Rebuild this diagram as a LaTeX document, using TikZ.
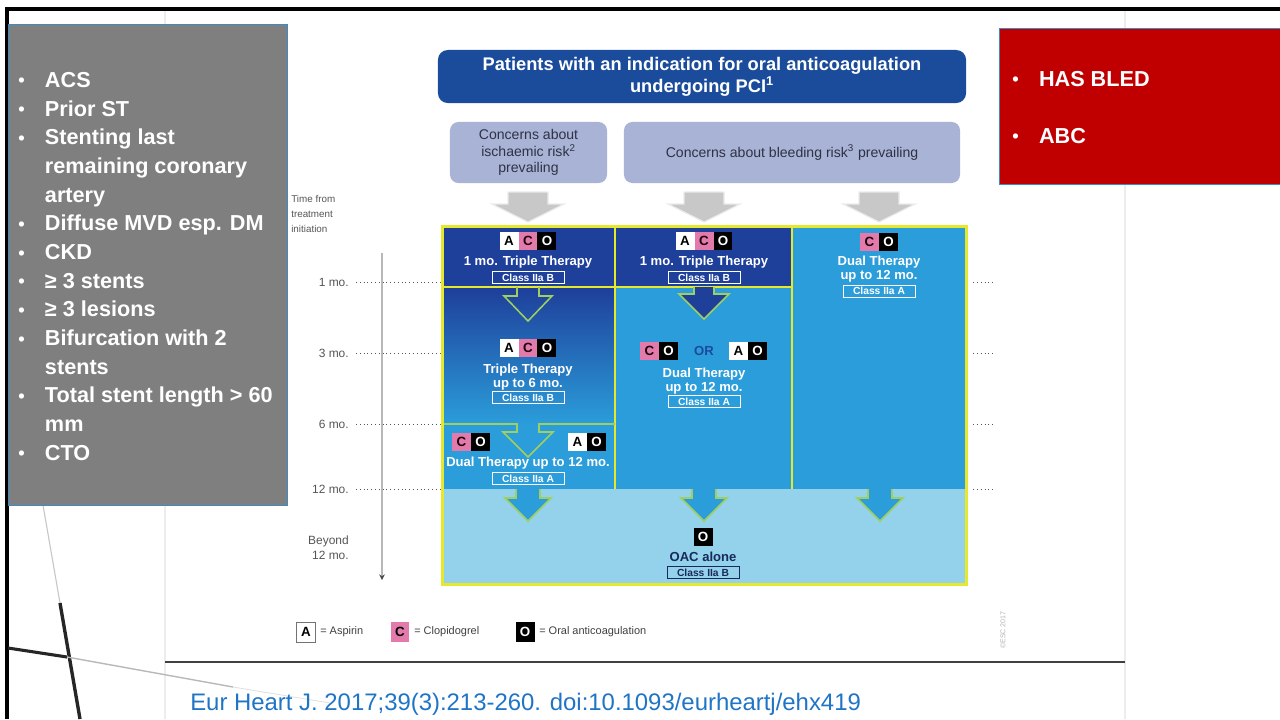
\documentclass[tikz,border=0pt]{standalone}
\usepackage{fontspec}
\setmainfont{Liberation Sans}
\usepackage{xcolor}
\usepackage{tikz}
\usetikzlibrary{arrows.meta, positioning}
\definecolor{panelgray}{HTML}{7F7F7F}
\definecolor{panelred}{HTML}{C00000}
\definecolor{paneledge}{HTML}{3A8CC4}
\definecolor{titleblue}{HTML}{1B4C9C}
\definecolor{concernfill}{HTML}{A8B3D6}
\definecolor{concerntext}{HTML}{2F3244}
\definecolor{darkcell}{HTML}{1E3F9A}
\definecolor{midcell}{HTML}{2B9DDA}
\definecolor{lightcell}{HTML}{93D2EA}
\definecolor{gridyellow}{HTML}{E6E82B}
\definecolor{arrowgreen}{HTML}{9FCF5F}
\definecolor{arrowgray}{HTML}{C8C8C8}
\definecolor{clopipink}{HTML}{E27AAC}
\definecolor{navytext}{HTML}{182A5C}
\definecolor{graytext}{HTML}{555555}
\definecolor{citeblue}{HTML}{1F74C6}

% coloured drug squares: A = aspirin, C = clopidogrel, O = oral anticoagulation
\newcommand{\drugsq}[3]{{\setlength{\fboxsep}{0pt}\colorbox{#1}{\makebox[13.5pt]{\rule[-3pt]{0pt}{13pt}\textcolor{#2}{#3}}}}}
\newcommand{\sqA}{\drugsq{white}{black}{A}}
\newcommand{\sqC}{\drugsq{clopipink}{black!85!purple}{C}}
\newcommand{\sqO}{\drugsq{black}{white}{O}}
\newcommand{\riskbullet}{\makebox[19pt][l]{\raisebox{0.3pt}{\fontsize{13}{13}\selectfont\textbullet}}}

\begin{document}
\begin{tikzpicture}[
  x=0.025cm, y=-0.025cm,
  panel/.style={draw=paneledge, line width=0.6pt, anchor=north west, inner sep=0pt},
  bullets/.style={anchor=north west, align=left, inner sep=0pt, text=white,
                  font=\fontsize{15.4}{20.4}\selectfont\bfseries},
  titlebox/.style={fill=titleblue, rounded corners=7pt, minimum width=13.2cm, minimum height=1.325cm,
                   align=center, text=white, font=\fontsize{13}{15.5}\selectfont\bfseries},
  concern/.style={fill=concernfill, rounded corners=6pt, minimum height=1.525cm, align=center,
                  text=concerntext, font=\fontsize{10}{11.5}\selectfont},
  grayarrow/.style={fill=arrowgray, draw=black!8, line width=0.8pt},
  greenline/.style={draw=arrowgreen, line width=1.1pt},
  drugs/.style={inner sep=0pt, font=\fontsize{9.5}{9.5}\selectfont\bfseries},
  celltext/.style={align=center, inner sep=0pt, text=white, font=\fontsize{9.3}{10}\selectfont\bfseries},
  classbox/.style={draw=white, line width=0.5pt, minimum width=51pt, minimum height=8.5pt, inner sep=0pt,
                   text=white, font=\fontsize{7.3}{7.3}\selectfont\bfseries},
  timelabel/.style={anchor=east, align=right, inner sep=0pt, text=graytext, font=\fontsize{8.5}{10.5}\selectfont},
  monthline/.style={dotted, line width=0.7pt, color=graytext},
  timeaxis/.style={line width=1.4pt, color=black!28, -{Stealth[length=4pt, width=4pt, color=black!70]}},
  legsq/.style={minimum width=13.5pt, minimum height=14pt, inner sep=0pt, font=\fontsize{9.5}{9.5}\selectfont\bfseries},
  legtext/.style={anchor=west, inner sep=0pt, text=black!75, font=\fontsize{7.8}{7.8}\selectfont},
]
\useasboundingbox (0,0) rectangle (1280,719);

% slide frame and background strokes
\draw[line width=1.4pt, black!7] (165,10) -- (165,719) (1125,10) -- (1125,719);
\draw[line width=2.2pt] (1280,9) -- (7,9) -- (7,719);
\draw[line width=0.8pt, black!22] (43,505) -- (60,603);
\draw[line width=2.4pt, black!85] (60,603) -- (80,719);
\draw[line width=2.2pt, black!85] (8,648) -- (67,657);
\draw[line width=1pt, black!28] (67,657) -- (233,687);
\draw[line width=0.6pt, black!12] (233,687) -- (330,703);

% ischaemic risk factors
\node[panel, fill=panelgray, minimum width=6.975cm, minimum height=12.025cm] (riskbox) at (8,24) {};
\node[bullets] (risklist) at (18,72) {\riskbullet ACS\\
  \riskbullet Prior ST\\
  \riskbullet Stenting last\\
  \hspace*{19pt}remaining coronary\\
  \hspace*{19pt}artery\\
  \riskbullet Diffuse MVD esp. DM\\
  \riskbullet CKD\\
  \riskbullet ≥ 3 stents\\
  \riskbullet ≥ 3 lesions\\
  \riskbullet Bifurcation with 2\\
  \hspace*{19pt}stents\\
  \riskbullet Total stent length > 60\\
  \hspace*{19pt}mm\\
  \riskbullet CTO};

% bleeding scores
\node[panel, fill=panelred, minimum width=7.1cm, minimum height=3.9cm] (bleedbox) at (999,28) {};
\node[bullets] (hasbled) at (1012,71) {\riskbullet HAS BLED};
\node[bullets] (abc) at (1012,128) {\riskbullet ABC};

% header boxes
\node[titlebox] (title) at (702,76.5) {Patients with an indication for oral anticoagulation\\undergoing PCI\textsuperscript{1}};
\node[concern, minimum width=3.925cm] (ischaemic) at (528.5,152.5) {Concerns about\\ischaemic risk\textsuperscript{2}\\prevailing};
\node[concern, minimum width=8.4cm] (bleeding) at (792,152.5) {Concerns about bleeding risk\textsuperscript{3} prevailing};

% gray arrows into the table
\draw[grayarrow, shift={(528,192)}] (-20,0) -- (20,0) -- (20,12) -- (36,12) -- (0,30) -- (-36,12) -- (-20,12) -- cycle;
\draw[grayarrow, shift={(704,192)}] (-20,0) -- (20,0) -- (20,12) -- (36,12) -- (0,30) -- (-36,12) -- (-20,12) -- cycle;
\draw[grayarrow, shift={(879,192)}] (-20,0) -- (20,0) -- (20,12) -- (36,12) -- (0,30) -- (-36,12) -- (-20,12) -- cycle;

% table cells
\fill[darkcell] (441,225) rectangle (792,287);
\shade[top color=darkcell, bottom color=midcell] (441,287) rectangle (615,424);
\fill[midcell] (441,424) rectangle (615,489);
\fill[midcell] (615,287) rectangle (792,489);
\fill[midcell] (792,225) rectangle (965,489);
\fill[lightcell] (441,489) rectangle (965,583);
\draw[gridyellow, line width=0.8pt] (441,287) -- (792,287);
\draw[gridyellow, line width=1.2pt] (615,225) -- (615,489) (792,225) -- (792,489);

% arrows inside the table
\draw[greenline] (517,287) -- (517,296) -- (504,296) -- (528,321) -- (552,296) -- (539,296) -- (539,287);
\filldraw[greenline, fill=darkcell, shift={(704,287)}] (-10,0) -- (-10,7) -- (-25,7) -- (0,32) -- (25,7) -- (10,7) -- (10,0);
\draw[greenline] (441,424) -- (517,424) -- (517,432) -- (503,432) -- (528,457) -- (553,432) -- (539,432) -- (539,424) -- (615,424);
\filldraw[greenline, fill=midcell, shift={(528,489)}] (-12,0) -- (-12,9) -- (-23,9) -- (0,32) -- (23,9) -- (12,9) -- (12,0);
\filldraw[greenline, fill=midcell, shift={(704,489)}] (-12,0) -- (-12,9) -- (-23,9) -- (0,32) -- (23,9) -- (12,9) -- (12,0);
\filldraw[greenline, fill=midcell, shift={(880,489)}] (-12,0) -- (-12,9) -- (-23,9) -- (0,32) -- (23,9) -- (12,9) -- (12,0);

\node[draw=gridyellow, line width=1.8pt, minimum width=13.1cm, minimum height=8.95cm, anchor=north west] (grid) at (441,225) {};

% ischaemic column
\node[drugs] (aco1) at (528,241) {\sqA\sqC\sqO};
\node[celltext] (tt1) at (528,262) {1 mo. Triple Therapy};
\node[classbox] (cls1) at (528,277.5) {Class IIa B};
\node[drugs] (aco2) at (528,348) {\sqA\sqC\sqO};
\node[celltext] (tt2) at (528,377) {Triple Therapy\\up to 6 mo.};
\node[classbox] (cls2) at (528,397.5) {Class IIa B};
\node[drugs] (co3) at (471,442) {\sqC\sqO};
\node[drugs] (ao3) at (587,442) {\sqA\sqO};
\node[celltext] (dt3) at (528,463) {Dual Therapy up to 12 mo.};
\node[classbox] (cls3) at (528,478.5) {Class IIa A};

% bleeding columns
\node[drugs] (aco4) at (704,241) {\sqA\sqC\sqO};
\node[celltext] (tt4) at (704,262) {1 mo. Triple Therapy};
\node[classbox] (cls4) at (704,277.5) {Class IIa B};
\node[drugs] (co5) at (659,351) {\sqC\sqO};
\node[celltext, text=titleblue] (or5) at (704,351) {OR};
\node[drugs] (ao5) at (748,351) {\sqA\sqO};
\node[celltext] (dt5) at (704,381) {Dual Therapy\\up to 12 mo.};
\node[classbox] (cls5) at (704,401.5) {Class IIa A};
\node[drugs] (co6) at (879,242) {\sqC\sqO};
\node[celltext] (dt6) at (879,269) {Dual Therapy\\up to 12 mo.};
\node[classbox] (cls6) at (879,291) {Class IIa A};

% beyond 12 months
\node[drugs] (o7) at (703,537) {\sqO};
\node[celltext, text=navytext] (oac7) at (703,557) {OAC alone};
\node[classbox, draw=navytext, text=navytext] (cls7) at (703,572.5) {Class IIa B};

% time scale
\node[anchor=north west, align=left, inner sep=0pt, text=graytext, font=\fontsize{7}{10.8}\selectfont] (timefrom) at (291,195) {Time from\\treatment\\initiation};
\coordinate (axistop) at (382,253);
\coordinate (axisend) at (382,580);
\draw[timeaxis] (axistop) -- (axisend);
\node[timelabel] (m1) at (349,282) {1 mo.};
\node[timelabel] (m3) at (349,353) {3 mo.};
\node[timelabel] (m6) at (349,424) {6 mo.};
\node[timelabel] (m12) at (349,489) {12 mo.};
\node[timelabel] (beyond) at (349,548) {Beyond\\12 mo.};
\draw[monthline] ([xshift=5pt]m1.east) -- (m1.east -| grid.west);
\draw[monthline] ([xshift=5pt]m3.east) -- (m3.east -| grid.west);
\draw[monthline] ([xshift=5pt]m6.east) -- (m6.east -| grid.west);
\draw[monthline] ([xshift=5pt]m12.east) -- (m12.east -| grid.west);
\draw[monthline] ([xshift=4pt]m1.east -| grid.east) -- ([xshift=18pt]m1.east -| grid.east);
\draw[monthline] ([xshift=4pt]m3.east -| grid.east) -- ([xshift=18pt]m3.east -| grid.east);
\draw[monthline] ([xshift=4pt]m6.east -| grid.east) -- ([xshift=18pt]m6.east -| grid.east);
\draw[monthline] ([xshift=4pt]m12.east -| grid.east) -- ([xshift=18pt]m12.east -| grid.east);

% legend
\node[legsq, fill=white, draw=black!55] (legA) at (306,632) {A};
\node[legtext, right=3pt of legA] (legAtext) {= Aspirin};
\node[legsq, fill=clopipink] (legC) at (400,632) {C};
\node[legtext, right=3pt of legC] (legCtext) {= Clopidogrel};
\node[legsq, fill=black, text=white] (legO) at (525,632) {O};
\node[legtext, right=3pt of legO] (legOtext) {= Oral anticoagulation};
\node[rotate=90, inner sep=0pt, text=black!30, font=\fontsize{5}{5}\selectfont] (esc) at (1003,630) {\copyright ESC 2017};

% source
\draw[line width=0.9pt, black!75] (165,662) -- (1125,662);
\node[anchor=base west, inner sep=0pt, text=citeblue, font=\fontsize{17}{17}\selectfont] (cite) at (190,710) {Eur Heart J. 2017;39(3):213-260. doi:10.1093/eurheartj/ehx419};

\end{tikzpicture}
\end{document}
